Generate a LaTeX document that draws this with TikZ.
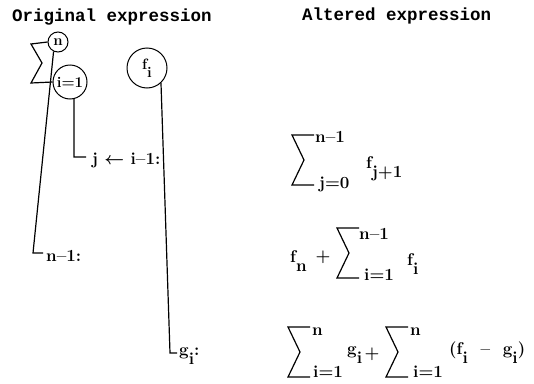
\documentclass[tikz,border=0pt]{standalone}
\usepackage{fontspec}
\newfontfamily\typew{Liberation Mono}
\usepackage{tikz}
\usetikzlibrary{positioning}

\newcommand\dn[1]{\raisebox{-1.2ex}{#1}}

\tikzset{
  lbl/.style={inner sep=0pt, font=\boldmath\bfseries\fontsize{17}{17}\selectfont},
  title/.style={inner sep=0pt, anchor=base west, font=\typew\bfseries\fontsize{17.5}{17.5}\selectfont},
  circ/.style={circle, draw, line width=1pt, inner sep=0pt, font=\bfseries\fontsize{15}{15}\selectfont},
  wire/.style={line width=1.2pt},
  sig/.pic={\draw[line width=1.2pt] (22,0) -- (0,0) -- (12,25) -- (0,50) -- (22,50);}
}

\begin{document}
\begin{tikzpicture}[x=1pt,y=-1pt]
            \useasboundingbox (0,0) rectangle (534,383);
            \node[title] (orig) at (12,21) {Original expression};
            \node[title] (alt) at (302,20) {Altered expression};
            % original expression
            \node[circ, minimum size=20pt] (n) at (58,42) {n};
            \node[circ, minimum size=34pt] (i1) at (70,82) {i=1};
            \node[circ, minimum size=40pt] (fi) at (147,68) {f\dn{i}};
            \draw[wire] (n.west) -- (31,44) -- (42,63) -- (31,83) -- (i1.west);
            \coordinate (kn) at (33,253);
            \coordinate (kj) at (74,157);
            \coordinate (kg) at (170,353);
            \node[lbl, anchor=west] (nlab) at (46,256) {n--1:};
            \node[lbl, anchor=west] (jlab) at (92,160) {j $\leftarrow$ i--1:};
            \node[lbl, anchor=west] (glab) at (179,356) {g\dn{i}:};
            \draw[wire] (n.245) -- (kn) -- ([xshift=-3pt]kn -| nlab.west);
            \draw[wire] (i1.283) -- (kj) -- ([xshift=-6pt]kj -| jlab.west);
            \draw[wire] (fi.313) -- (kg) -- ([xshift=-2pt]kg -| glab.west);
            % altered expression
            \pic at (292,135) {sig};
            \node[lbl, anchor=west] (up1) at (315,137) {n--1};
            \node[lbl, anchor=west] (lo1) at (319,184) {j=0};
            \node[lbl, anchor=west] (body1) at (366,169) {f\dn{j+1}};
            \node[lbl, anchor=west] (fn) at (290,261) {f\dn{n}};
            \node[lbl] (plus2) at (323,257) {+};
            \pic at (337,228) {sig};
            \node[lbl, anchor=west] (up2) at (359,234) {n--1};
            \node[lbl, anchor=west] (lo2) at (364,275) {i=1};
            \node[lbl, anchor=west] (body2) at (407,264) {f\dn{i}};
            \pic at (288,327) {sig};
            \node[lbl, anchor=west] (up3) at (312,332) {n};
            \node[lbl, anchor=west] (lo3) at (313,372) {i=1};
            \node[lbl, anchor=west] (g3) at (347,355) {g\dn{i}};
            \node[lbl] (plus3) at (372,354) {+};
            \pic at (386,327) {sig};
            \node[lbl, anchor=west] (up4) at (410,332) {n};
            \node[lbl, anchor=west] (lo4) at (413,372) {i=1};
            \node[lbl, anchor=west] (body3) at (449,353) {(f\dn{i} \ -- \ g\dn{i})};
        \end{tikzpicture}
\end{document}
